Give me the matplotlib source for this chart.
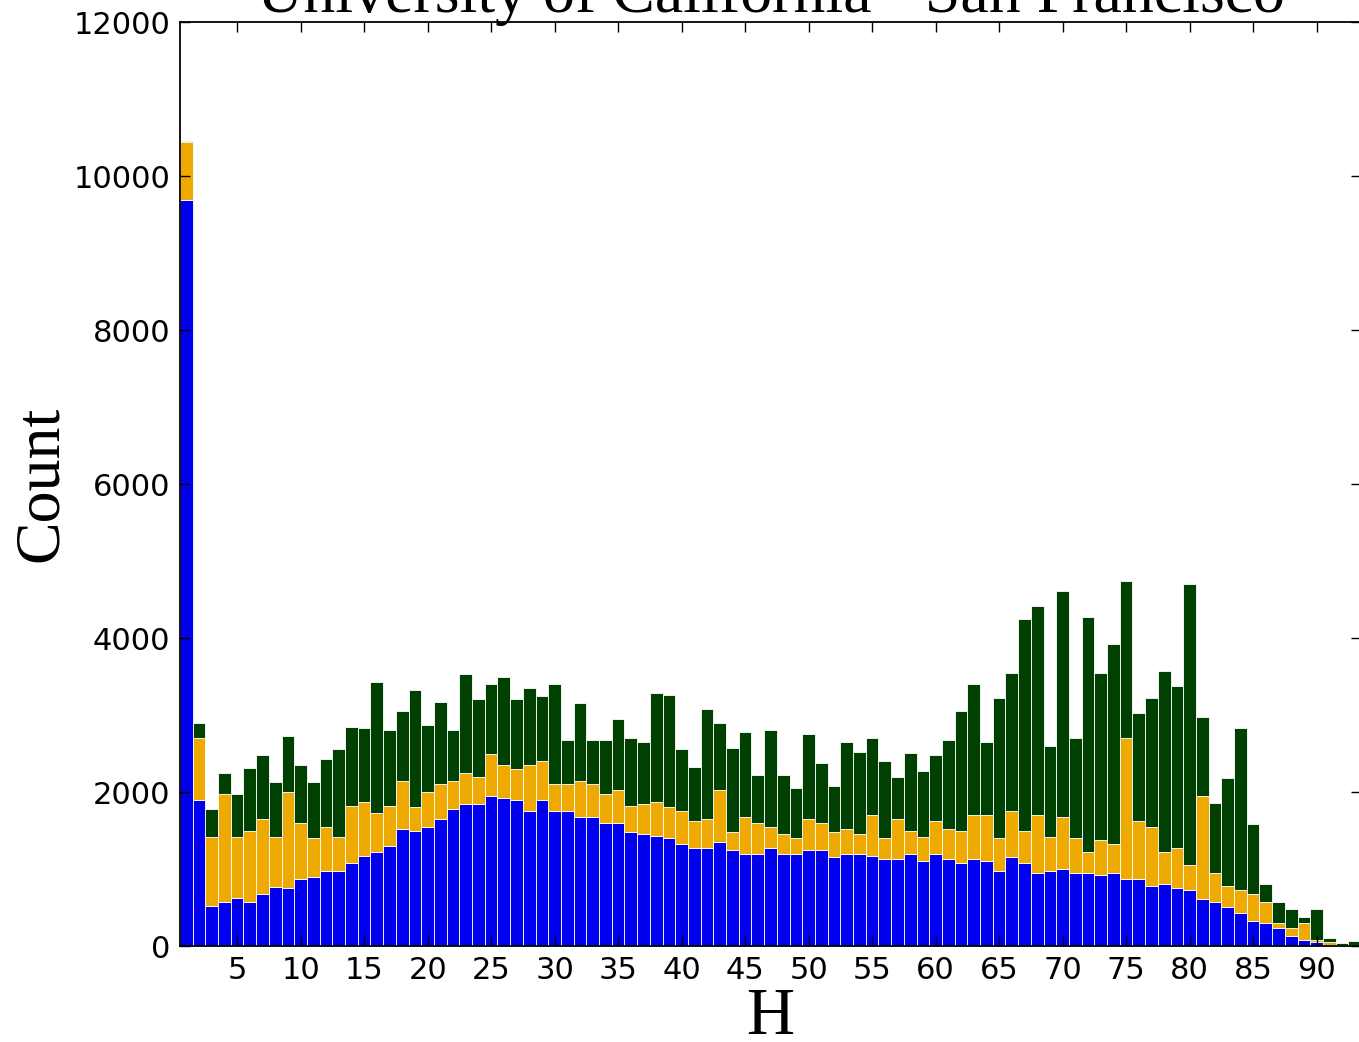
import matplotlib
matplotlib.use("Agg")
import matplotlib.pyplot as plt
import numpy as np

# H bins (1..93)
h_values = list(range(1, 94))

blue_counts = [9690, 1896, 524, 576, 628, 576, 675, 771, 749, 874,
               900, 974, 974, 1074, 1173, 1225, 1299, 1524, 1498, 1550,
               1649, 1775, 1848, 1848, 1948, 1922, 1896, 1749, 1896, 1749,
               1749, 1675, 1675, 1602, 1602, 1476, 1450, 1424, 1398, 1325,
               1277, 1277, 1351, 1251, 1199, 1199, 1277, 1199, 1199, 1251,
               1251, 1152, 1199, 1199, 1173, 1126, 1126, 1199, 1100, 1199,
               1126, 1074, 1126, 1100, 974, 1152, 1074, 952, 974, 1000,
               952, 952, 926, 952, 874, 874, 779, 805, 753, 727,
               606, 576, 502, 424, 329, 303, 229, 130, 78, 52,
               13, 4, 4]

orange_counts = [751, 801, 896, 1398, 792, 922, 974, 649, 1247, 728,
                 498, 576, 446, 749, 701, 498, 524, 623, 303, 446,
                 451, 372, 403, 351, 550, 429, 403, 602, 502, 351,
                 351, 472, 425, 372, 424, 347, 398, 450, 403, 424,
                 346, 372, 675, 225, 476, 403, 273, 251, 199, 398,
                 351, 324, 325, 251, 528, 272, 523, 295, 320, 424,
                 398, 424, 571, 597, 429, 597, 424, 745, 446, 671,
                 446, 273, 451, 373, 1823, 749, 771, 420, 524, 325,
                 1342, 376, 277, 303, 346, 273, 74, 99, 225, 26,
                 43, 9, 5]

green_counts = [17, 203, 355, 277, 554, 809, 827, 706, 727, 749,
                728, 874, 1134, 1026, 953, 1701, 982, 905, 1524, 874,
                1073, 658, 1277, 1004, 905, 1147, 904, 995, 853, 1303,
                580, 1005, 580, 706, 926, 883, 806, 1407, 1459, 805,
                706, 1425, 874, 1100, 1100, 623, 1255, 775, 650, 1100,
                770, 606, 1125, 1074, 996, 1000, 550, 1008, 857, 853,
                1151, 1550, 1701, 952, 1822, 1796, 2749, 2723, 1182, 2944,
                1299, 3043, 2168, 2597, 2048, 1399, 1675, 2351, 2100, 3645,
                1030, 901, 1398, 2100, 905, 229, 273, 247, 74, 398,
                48, 22, 51]

x_ticks = [5, 10, 15, 20, 25, 30, 35, 40, 45, 50, 55, 60, 65, 70, 75, 80, 85, 90]
y_ticks = [0, 2000, 4000, 6000, 8000, 10000, 12000]

title_text = "University of California - San Francisco"
x_label = "H"
y_label = "Count"

c_blue = "#0000ee"
c_orange = "#eeaa00"
c_green = "#004000"

W, H = 1359, 1042
fig = plt.figure(figsize=(W / 100, H / 100), dpi=100)
ax = fig.add_axes([180 / W, 1 - 946 / H, (1361 - 180) / W, (946 - 22) / H])

x = np.array(h_values)
b = np.array(blue_counts)
o = np.array(orange_counts)
g = np.array(green_counts)

kw = dict(width=1.0, align="center", edgecolor="white", linewidth=0.6)
ax.bar(x, b, color=c_blue, **kw)
ax.bar(x, o, bottom=b, color=c_orange, **kw)
ax.bar(x, g, bottom=b + o, color=c_green, **kw)

ax.set_xlim(0.5, 93.5)
ax.set_ylim(0, 12000)
ax.set_xticks(x_ticks)
ax.set_yticks(y_ticks)

ax.tick_params(axis="both", which="major", direction="in", length=7, width=1,
               top=True, right=True, labelsize=22, pad=7, colors="black")
for s in ax.spines.values():
    s.set_linewidth(1.3)

serif = ["Liberation Serif", "DejaVu Serif"]
ax.set_title(title_text, fontsize=46, family=serif, pad=7)
ax.set_xlabel(x_label, fontsize=48, family=serif, labelpad=2)
ax.set_ylabel(y_label, fontsize=46, family=serif, labelpad=2)

fig.savefig("out.png", dpi=100, facecolor="white")
